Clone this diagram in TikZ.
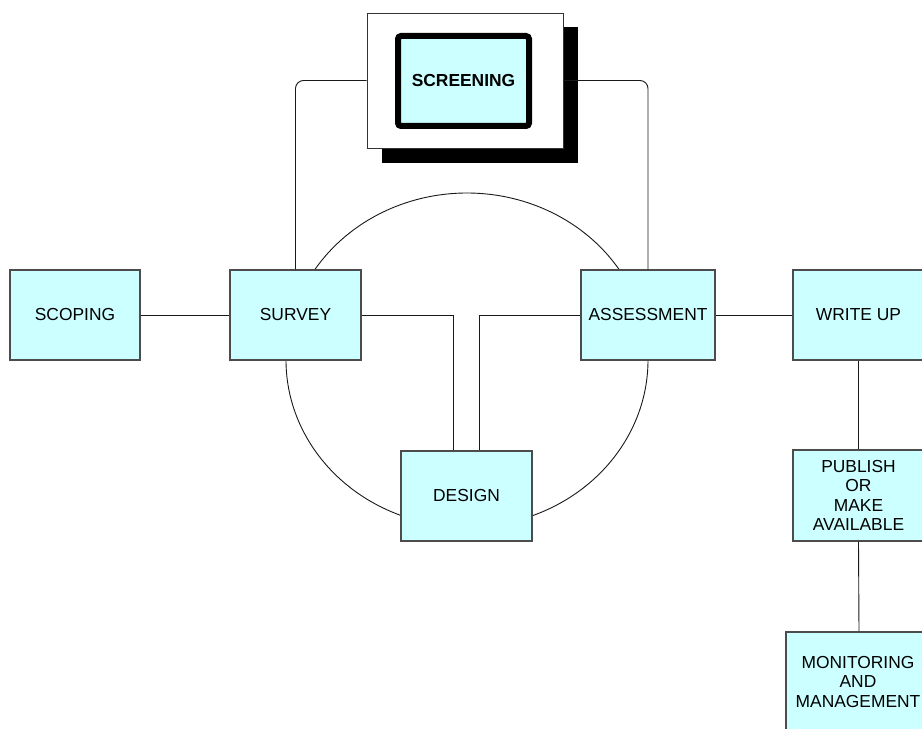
\documentclass[tikz,border=0pt]{standalone}
\usepackage{fontspec}
\setmainfont{Liberation Sans}
\definecolor{boxfill}{HTML}{CCFFFF}
\begin{document}
\begin{tikzpicture}[x=1pt,y=1pt,
  box/.style={draw=black!70, line width=1.1pt, fill=boxfill, minimum width=131pt,
    minimum height=90pt, inner sep=0pt, font=\fontsize{17.4}{19.5}\selectfont, align=center},
  link/.style={draw=black!90, line width=0.9pt}]
\useasboundingbox (0,0) rectangle (922,729);
% ring centre
\coordinate (ring) at (467,369);
% arcs of the cycle
\draw[link] ([shift={(147.5:181 and 167)}]ring) arc[start angle=147.5, end angle=32.5, x radius=181, y radius=167];
\draw[link] ([shift={(180:181 and 167)}]ring) arc[start angle=180, end angle=248.6, x radius=181, y radius=167];
\draw[link] ([shift={(0:181 and 167)}]ring) arc[start angle=0, end angle=-68.6, x radius=181, y radius=167];
% screening block
\node[fill=black, minimum width=196pt, minimum height=136pt, inner sep=0pt] (shadow) at (480,634) {};
\node[draw=black!80, fill=white, line width=0.9pt, minimum width=196pt, minimum height=135pt, inner sep=0pt] (frame) at (465,648.5) {};
\node[draw=black, line width=6pt, rounded corners=3pt, fill=boxfill, minimum width=131pt, minimum height=90pt,
  inner sep=0pt, font=\fontsize{17.4}{19.5}\selectfont\bfseries] (screening) at (463.5,648) {SCREENING};
% process boxes
\node[box, minimum width=130pt] (scoping) at (75,414) {SCOPING};
\node[box] (survey) at (295.5,414) {SURVEY};
\node[box, minimum width=134pt] (assess) at (648,414) {ASSESSMENT};
\node[box] (design) at (466.5,233) {DESIGN};
\node[box] (writeup) at (858.5,414) {WRITE UP};
\node[box, minimum height=91pt] (publish) at (858.5,233.5) {PUBLISH\\OR\\MAKE\\AVAILABLE};
\node[box, minimum width=144pt, minimum height=100pt] (monitor) at (858,47) {MONITORING\\AND\\MANAGEMENT};
% connectors
\draw[link, rounded corners=8pt] (survey.north) |- (frame.west);
\draw[link, rounded corners=8pt] (frame.east) -| (assess.north);
\draw[link] (scoping.east) -- (survey.west);
\draw[link] (assess.east) -- (writeup.west);
\draw[link] (survey.east) -| ([xshift=-13.5pt]design.north);
\draw[link] (assess.west) -| ([xshift=12.5pt]design.north);
\draw[link] (writeup.south) -- (publish.north);
\draw[link] (publish.south) -- ([xshift=1pt]monitor.north);
\end{tikzpicture}
\end{document}
